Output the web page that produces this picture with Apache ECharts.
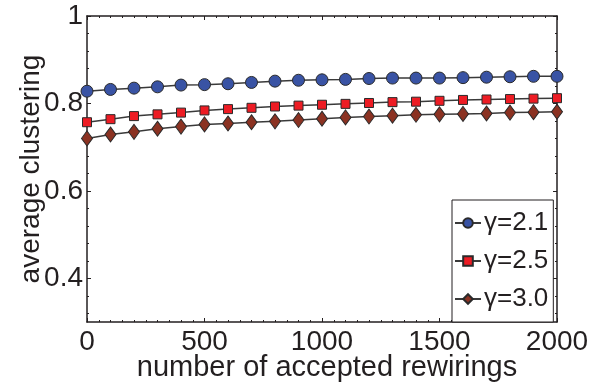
<!DOCTYPE html>
<html>
<head>
<meta charset="utf-8">
<script src="https://cdn.jsdelivr.net/npm/echarts@6/dist/echarts.min.js"></script>
<style>
  html, body { margin: 0; padding: 0; background: #fff; }
  #chart { width: 591px; height: 383px; }
</style>
</head>
<body>
<div id="chart"></div>
<script>
// Number of accepted rewirings (x positions of the samples)
const rewirings = [0, 100, 200, 300, 400, 500, 600, 700, 800, 900, 1000,
                   1100, 1200, 1300, 1400, 1500, 1600, 1700, 1800, 1900, 2000];

// Average clustering for each exponent
const gamma21 = [0.828, 0.832, 0.835, 0.838, 0.842, 0.843, 0.845, 0.848, 0.851, 0.853, 0.854,
                 0.855, 0.857, 0.858, 0.858, 0.858, 0.859, 0.860, 0.861, 0.862, 0.862];
const gamma25 = [0.757, 0.764, 0.771, 0.775, 0.779, 0.784, 0.787, 0.790, 0.793, 0.795, 0.797,
                 0.799, 0.801, 0.803, 0.804, 0.806, 0.808, 0.809, 0.810, 0.811, 0.812];
const gamma30 = [0.720, 0.729, 0.735, 0.742, 0.747, 0.752, 0.754, 0.757, 0.759, 0.762, 0.765,
                 0.768, 0.770, 0.772, 0.774, 0.775, 0.776, 0.777, 0.779, 0.780, 0.781];

const seriesNames = ['γ=2.1', 'γ=2.5', 'γ=3.0'];

// Axis ticks
const yLabelValues = [0.4, 0.6, 0.8, 1.0];
const yMinorValues = [0.32, 0.36, 0.44, 0.48, 0.52, 0.56, 0.64, 0.68, 0.72, 0.76, 0.84, 0.88, 0.92, 0.96];

const FONT = '"Liberation Sans", Arial, Helvetica, sans-serif';
const INK = '#231f20';

function pairs(ys) { return rewirings.map((x, i) => [x, ys[i]]); }

function xAxisDef(pos, showLabels) {
  return {
    type: 'value', position: pos, min: 0, max: 2000, interval: 500,
    name: showLabels ? 'number of accepted rewirings' : '',
    nameLocation: 'middle', nameGap: 31, nameMoveOverlap: false,
    nameTextStyle: { fontFamily: FONT, fontSize: 29, color: INK, padding: [0, 0, 0, 10] },
    axisLine: { show: true, onZero: false, lineStyle: { color: INK, width: 1.5 } },
    axisTick: { show: true, inside: true, length: 4, lineStyle: { color: INK, width: 1 } },
    minorTick: { show: true, splitNumber: 10, length: 2, lineStyle: { color: INK, width: 1 } },
    axisLabel: {
      show: showLabels, fontFamily: FONT, fontSize: 28, color: INK, margin: 6,
      formatter: v => String(v)
    },
    splitLine: { show: false }, minorSplitLine: { show: false }
  };
}

function yAxisDef(pos, major, showLabels) {
  return {
    type: 'value', position: pos, min: 0.3, max: 1.0,
    name: (showLabels && major) ? 'average clustering' : '',
    nameLocation: 'middle', nameGap: 42, nameMoveOverlap: false,
    nameTextStyle: { fontFamily: FONT, fontSize: 28, color: INK },
    axisLine: { show: major, onZero: false, lineStyle: { color: INK, width: 1.5 } },
    axisTick: {
      show: true, inside: true, length: major ? 4 : 2,
      customValues: major ? yLabelValues : yMinorValues,
      lineStyle: { color: INK, width: 1 }
    },
    axisLabel: {
      show: showLabels && major, fontFamily: FONT, fontSize: 28, color: INK, margin: 4,
      customValues: yLabelValues,
      formatter: v => (Math.abs(v - 1) < 1e-9 ? '1' : String(+v.toFixed(1)))
    },
    splitLine: { show: false }
  };
}

function lineSeries(name, ys, symbol, size, color) {
  return {
    name, type: 'line', data: pairs(ys), xAxisIndex: 0, yAxisIndex: 0,
    symbol, symbolSize: size, showAllSymbol: true,
    lineStyle: { color: '#3a3a3a', width: 1.5 },
    itemStyle: { color, borderColor: '#2a2a2a', borderWidth: 1 },
    emphasis: { disabled: true },
    z: 3
  };
}

const chart = echarts.init(document.getElementById('chart'), null, { renderer: 'canvas' });
chart.setOption({
  animation: false,
  backgroundColor: '#fff',
  grid: { left: 87, right: 34, top: 16, bottom: 61, containLabel: false, outerBoundsMode: 'none' },
  xAxis: [xAxisDef('bottom', true), xAxisDef('top', false)],
  yAxis: [
    yAxisDef('left', true, true),
    yAxisDef('left', false, false),
    yAxisDef('right', true, false),
    yAxisDef('right', false, false)
  ],
  legend: {
    data: seriesNames,
    orient: 'vertical',
    left: 452, top: 200,
    padding: [9, 5, 9, 2],
    itemGap: 10,
    itemWidth: 26, itemHeight: 12,
    backgroundColor: '#fff',
    borderColor: INK, borderWidth: 1,
    textStyle: { fontFamily: FONT, fontSize: 26, color: INK, lineHeight: 28, padding: [0, 0, 0, -2] },
    z: 10
  },
  series: [
    lineSeries(seriesNames[0], gamma21, 'circle', 12, '#3953a4'),
    lineSeries(seriesNames[1], gamma25, 'rect', 9, '#ed1c24'),
    lineSeries(seriesNames[2], gamma30, 'diamond', [11, 15], '#8b3222')
  ]
});
</script>
</body>
</html>
